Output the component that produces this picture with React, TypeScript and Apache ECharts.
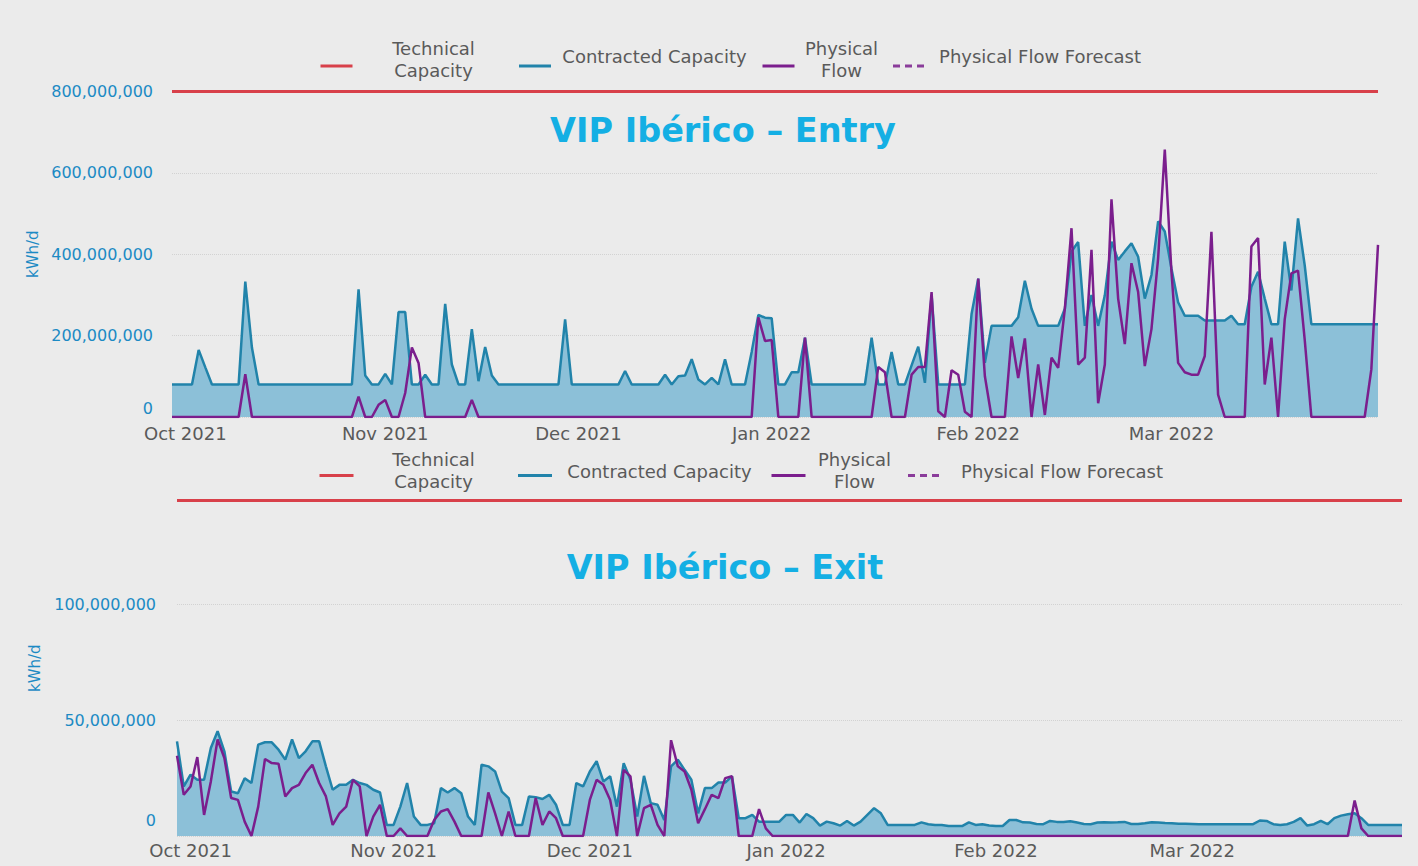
import React, { useEffect, useRef } from 'react';
import * as echarts from 'echarts';

// ---- categories (one point per gas day) ----
const dates: string[] = (() => {
  const out: string[] = [];
  const d = new Date(Date.UTC(2021, 9, 1));
  for (let i = 0; i < 182; i++) {
    out.push(d.toISOString().slice(0, 10));
    d.setUTCDate(d.getUTCDate() + 1);
  }
  return out;
})();

const monthLabels = ['Oct 2021', 'Nov 2021', 'Dec 2021', 'Jan 2022', 'Feb 2022', 'Mar 2022'];
const monthLabelIdx = [2, 32, 61, 90, 121, 150];

const seriesNames = ['Technical Capacity', 'Contracted Capacity', 'Physical Flow', 'Physical Flow Forecast'];

// ---- values, million kWh/d ----
const entryTechnical = 800;
const exitTechnical = 145;

const entryContracted = [
  80, 80, 80, 80, 165, 122, 80, 80, 80, 80,
  80, 333, 170, 80, 80, 80, 80, 80, 80, 80,
  80, 80, 80, 80, 80, 80, 80, 80, 314, 102,
  80, 80, 106, 80, 258, 258, 80, 80, 104, 80,
  80, 278, 129, 80, 80, 216, 88, 172, 102, 80,
  80, 80, 80, 80, 80, 80, 80, 80, 80, 240,
  80, 80, 80, 80, 80, 80, 80, 80, 113, 80,
  80, 80, 80, 80, 104, 80, 100, 102, 142, 92,
  80, 96, 80, 142, 80, 80, 80, 160, 251, 244,
  243, 80, 80, 110, 110, 195, 80, 80, 80, 80,
  80, 80, 80, 80, 80, 195, 80, 80, 160, 80,
  80, 127, 173, 84, 300, 80, 80, 80, 80, 80,
  253, 340, 133, 224, 224, 224, 224, 245, 335, 266,
  224, 224, 224, 224, 266, 407, 430, 224, 300, 224,
  299, 431, 386, 407, 427, 394, 291, 349, 481, 456,
  365, 282, 249, 249, 249, 237, 237, 237, 237, 249,
  228, 228, 320, 357, 291, 228, 228, 431, 311, 488,
  373, 228, 228, 228, 228, 228, 228, 228, 228, 228,
  228, 228,
];

const entryFlow = [
  0, 0, 0, 0, 0, 0, 0, 0, 0, 0,
  0, 105, 0, 0, 0, 0, 0, 0, 0, 0,
  0, 0, 0, 0, 0, 0, 0, 0, 50, 0,
  0, 30, 42, 0, 0, 59, 171, 133, 0, 0,
  0, 0, 0, 0, 0, 42, 0, 0, 0, 0,
  0, 0, 0, 0, 0, 0, 0, 0, 0, 0,
  0, 0, 0, 0, 0, 0, 0, 0, 0, 0,
  0, 0, 0, 0, 0, 0, 0, 0, 0, 0,
  0, 0, 0, 0, 0, 0, 0, 0, 245, 187,
  189, 0, 0, 0, 0, 195, 0, 0, 0, 0,
  0, 0, 0, 0, 0, 0, 123, 110, 0, 0,
  0, 104, 123, 123, 307, 14, 0, 115, 104, 13,
  0, 340, 100, 0, 0, 0, 198, 96, 193, 0,
  129, 5, 146, 121, 266, 464, 129, 146, 411, 34,
  129, 535, 291, 179, 378, 307, 125, 216, 390, 657,
  357, 133, 110, 104, 104, 150, 455, 55, 0, 0,
  0, 0, 419, 440, 80, 195, 0, 240, 353, 360,
  190, 0, 0, 0, 0, 0, 0, 0, 0, 0,
  117, 423,
];

const exitContracted = [
  40.9, 21.4, 26.5, 24.3, 24.3, 38.0, 45.3, 36.6, 19.2, 18.5,
  25.0, 22.9, 39.5, 40.5, 40.5, 37.3, 33.0, 41.7, 33.7, 36.6,
  40.9, 40.9, 30.1, 20.0, 22.1, 22.1, 24.3, 22.9, 22.1, 20.0,
  18.8, 4.8, 4.8, 12.7, 22.9, 8.4, 4.8, 4.8, 5.5, 20.7,
  18.8, 20.7, 18.5, 8.4, 4.8, 30.8, 30.1, 27.9, 19.2, 16.4,
  4.8, 4.8, 17.1, 16.8, 16.0, 17.8, 13.5, 4.8, 4.8, 22.9,
  21.4, 27.9, 32.3, 23.6, 25.8, 12.7, 31.5, 24.3, 8.4, 26.0,
  14.2, 13.5, 6.9, 30.1, 33.0, 28.6, 24.3, 9.8, 20.7, 20.7,
  23.1, 23.1, 25.8, 7.7, 7.7, 9.1, 6.2, 6.2, 6.2, 6.2,
  9.1, 9.1, 5.8, 9.5, 7.7, 4.5, 6.2, 5.5, 4.5, 6.5,
  4.5, 6.2, 9.1, 12.0, 9.8, 4.8, 4.8, 4.8, 4.8, 4.8,
  5.9, 5.1, 4.8, 4.8, 4.3, 4.3, 4.3, 5.9, 4.8, 5.1,
  4.5, 4.3, 4.3, 6.9, 6.9, 5.9, 5.8, 5.2, 5.1, 6.5,
  6.1, 6.1, 6.4, 5.8, 5.2, 5.1, 5.8, 5.9, 5.8, 5.9,
  6.1, 5.2, 5.2, 5.5, 5.9, 5.8, 5.6, 5.5, 5.3, 5.3,
  5.2, 5.1, 5.1, 5.1, 5.1, 5.1, 5.1, 5.1, 5.1, 5.1,
  6.7, 6.5, 5.1, 4.8, 5.1, 6.1, 7.7, 4.5, 5.1, 6.5,
  5.1, 7.7, 8.8, 9.4, 9.8, 7.7, 4.8, 4.8, 4.8, 4.8,
  4.8, 4.8,
];

const exitFlow = [
  34.7, 17.8, 21.4, 34.1, 9.1, 23.6, 41.7, 33.7, 16.4, 15.6,
  6.2, 0, 12.7, 33.3, 31.5, 31.2, 17.1, 20.7, 22.1, 27.2,
  30.8, 22.9, 17.1, 4.8, 9.8, 12.7, 24.3, 21.4, 0, 8.4,
  13.5, 0, 0, 3.3, 0, 0, 0, 0, 6.9, 10.6,
  11.6, 6.2, 0, 0, 0, 0, 18.8, 9.8, 0, 10.6,
  0, 0, 0, 16.4, 4.8, 10.6, 7.7, 0, 0, 0,
  0, 15.6, 24.3, 22.1, 15.6, 0, 28.6, 25.8, 0, 12.0,
  13.5, 4.8, 0, 41.4, 30.1, 27.9, 20.0, 5.5, 11.6, 17.8,
  16.4, 25.0, 25.8, 0, 0, 0, 11.6, 3.3, 0, 0,
  0, 0, 0, 0, 0, 0, 0, 0, 0, 0,
  0, 0, 0, 0, 0, 0, 0, 0, 0, 0,
  0, 0, 0, 0, 0, 0, 0, 0, 0, 0,
  0, 0, 0, 0, 0, 0, 0, 0, 0, 0,
  0, 0, 0, 0, 0, 0, 0, 0, 0, 0,
  0, 0, 0, 0, 0, 0, 0, 0, 0, 0,
  0, 0, 0, 0, 0, 0, 0, 0, 0, 0,
  0, 0, 0, 0, 0, 0, 0, 0, 0, 0,
  0, 0, 0, 0, 15.3, 3.3, 0, 0, 0, 0,
  0, 0,
];

// ---- styles ----
const FONT = 'DejaVu Sans';
const BG = '#ebebeb';
const RED = '#d8404a';
const CONTRACT_LINE = '#2183aa';
const CONTRACT_FILL = '#8cc0d8';
const FLOW = '#7b1e8d';
const FORECAST = '#8a3c9a';
const AXIS_BLUE = '#1c8ac4';
const TITLE_BLUE = '#14afe4';
const GREY_TEXT = '#5a5a5a';

function legendFor(left: number, top: number, iconW: number, widths: number[], padSingle: number, padDouble: number) {
  const [w1, w2, w3, w4] = widths;
  const tok = (w: number, align: string) => ({ width: w, align, fontSize: 18, lineHeight: 22, fontFamily: FONT, color: GREY_TEXT });
  return {
    left,
    top,
    padding: 0,
    orient: 'horizontal',
    itemGap: 8,
    itemWidth: iconW,
    itemHeight: 14,
    selectedMode: false,
    itemStyle: { opacity: 0 },
    lineStyle: { width: 3 },
    data: [
      { name: seriesNames[0], textStyle: { padding: [0, 0, padDouble, 0] } },
      { name: seriesNames[1], textStyle: { padding: [0, 0, padSingle, 0] } },
      { name: seriesNames[2], textStyle: { padding: [0, 0, padDouble, 0] } },
      { name: seriesNames[3], textStyle: { padding: [0, 0, padSingle, 0] } },
    ],
    formatter: (name: string) => {
      if (name === seriesNames[0]) return '{a|Technical}\n{a|Capacity}';
      if (name === seriesNames[1]) return '{b|Contracted Capacity}';
      if (name === seriesNames[2]) return '{c|Physical}\n{c|Flow}';
      return '{d|Physical Flow Forecast}';
    },
    textStyle: {
      fontSize: 18,
      fontFamily: FONT,
      color: GREY_TEXT,
      rich: { a: tok(w1, 'center'), b: tok(w2, 'center'), c: tok(w3, 'center'), d: tok(w4, 'right') },
    },
  };
}

function seriesFor(gridIdx: number, technical: number, contracted: number[], flow: number[]) {
  return [
    {
      name: seriesNames[0],
      type: 'line',
      xAxisIndex: gridIdx,
      yAxisIndex: gridIdx,
      data: [],
      symbol: 'none',
      color: RED,
      lineStyle: { color: RED, width: 3 },
      markLine: {
        silent: true,
        symbol: ['none', 'none'],
        label: { show: false },
        lineStyle: { color: RED, width: 3, type: 'solid' },
        data: [{ yAxis: technical }],
      },
      z: 3,
    },
    {
      name: seriesNames[1],
      type: 'line',
      xAxisIndex: gridIdx,
      yAxisIndex: gridIdx,
      data: contracted,
      symbol: 'none',
      color: CONTRACT_LINE,
      lineStyle: { color: CONTRACT_LINE, width: 2.5 },
      areaStyle: { color: CONTRACT_FILL, opacity: 1 },
      z: 2,
    },
    {
      name: seriesNames[2],
      type: 'line',
      xAxisIndex: gridIdx,
      yAxisIndex: gridIdx,
      data: flow,
      symbol: 'none',
      color: FLOW,
      lineStyle: { color: FLOW, width: 2.5 },
      z: 4,
    },
    {
      name: seriesNames[3],
      type: 'line',
      xAxisIndex: gridIdx,
      yAxisIndex: gridIdx,
      data: [],
      symbol: 'none',
      color: FORECAST,
      lineStyle: { color: FORECAST, width: 2.5, type: [7, 5] },
      z: 4,
    },
  ];
}

function xAxisFor(gridIdx: number, margin: number) {
  return {
    type: 'category',
    gridIndex: gridIdx,
    data: dates,
    boundaryGap: false,
    axisLine: { show: false },
    axisTick: { show: false },
    splitLine: { show: false },
    axisLabel: {
      interval: (idx: number) => monthLabelIdx.indexOf(idx) >= 0,
      formatter: (_v: string, idx: number) => monthLabels[monthLabelIdx.indexOf(idx)] ?? '',
      color: GREY_TEXT,
      fontSize: 18,
      fontFamily: FONT,
      margin,
      hideOverlap: false,
    },
  };
}

function yAxisFor(gridIdx: number, max: number, interval: number, margin: number, nameGap: number, zeroPad: number) {
  return {
    type: 'value',
    gridIndex: gridIdx,
    min: 0,
    max,
    interval,
    name: 'kWh/d',
    nameLocation: 'middle',
    nameRotate: 90,
    nameGap,
    nameTextStyle: { color: AXIS_BLUE, fontSize: 15, fontFamily: FONT },
    axisLine: { show: false },
    axisTick: { show: false },
    splitLine: { show: true, lineStyle: { color: '#d2d2d2', type: 'dotted', width: 1 } },
    axisLabel: {
      showMaxLabel: max % interval === 0,
      color: AXIS_BLUE,
      fontSize: 16,
      fontFamily: FONT,
      margin,
      formatter: (v: number) => (v === 0 ? '{z|0}' : Math.round(v * 1e6).toLocaleString('en-US')),
      rich: { z: { color: AXIS_BLUE, fontSize: 16, fontFamily: FONT, padding: [0, 0, zeroPad, 0] } },
    },
  };
}

export default function App() {
  const ref = useRef<HTMLDivElement>(null);
  useEffect(() => {
    if (!ref.current) return;
    const chart = echarts.init(ref.current, undefined, { renderer: 'svg' });
    chart.setOption({
      animation: false,
      backgroundColor: BG,
      textStyle: { fontFamily: FONT },
      title: [
        {
          text: 'VIP Ibérico – Entry',
          left: 723,
          top: 130,
          padding: 0,
          textAlign: 'center',
          textVerticalAlign: 'middle',
          textStyle: { fontSize: 33.5, fontWeight: 'bold', color: TITLE_BLUE, fontFamily: FONT },
        },
        {
          text: 'VIP Ibérico – Exit',
          left: 725,
          top: 567,
          padding: 0,
          textAlign: 'center',
          textVerticalAlign: 'middle',
          textStyle: { fontSize: 33.5, fontWeight: 'bold', color: TITLE_BLUE, fontFamily: FONT },
        },
      ],
      legend: [
        legendFor(319, 39, 32, [152, 197, 84, 211], 20, 14),
        legendFor(318, 450, 34, [150, 205, 88, 216], 8, 11),
      ],
      grid: [
        { left: 172, right: 40, top: 91.5, height: 325.5, containLabel: false },
        { left: 177, right: 16, top: 500.5, height: 335.5, containLabel: false },
      ],
      xAxis: [xAxisFor(0, 7), xAxisFor(1, 5)],
      yAxis: [yAxisFor(0, entryTechnical, 200, 19, 132, 18), yAxisFor(1, exitTechnical, 50, 21, 135, 32)],
      series: [
        ...seriesFor(0, entryTechnical, entryContracted, entryFlow),
        ...seriesFor(1, exitTechnical, exitContracted, exitFlow),
      ],
    });
    return () => chart.dispose();
  }, []);
  return (
    <div
      ref={ref}
      style={{ position: 'absolute', left: 0, top: 0, width: 1418, height: 866, background: BG }}
    />
  );
}
